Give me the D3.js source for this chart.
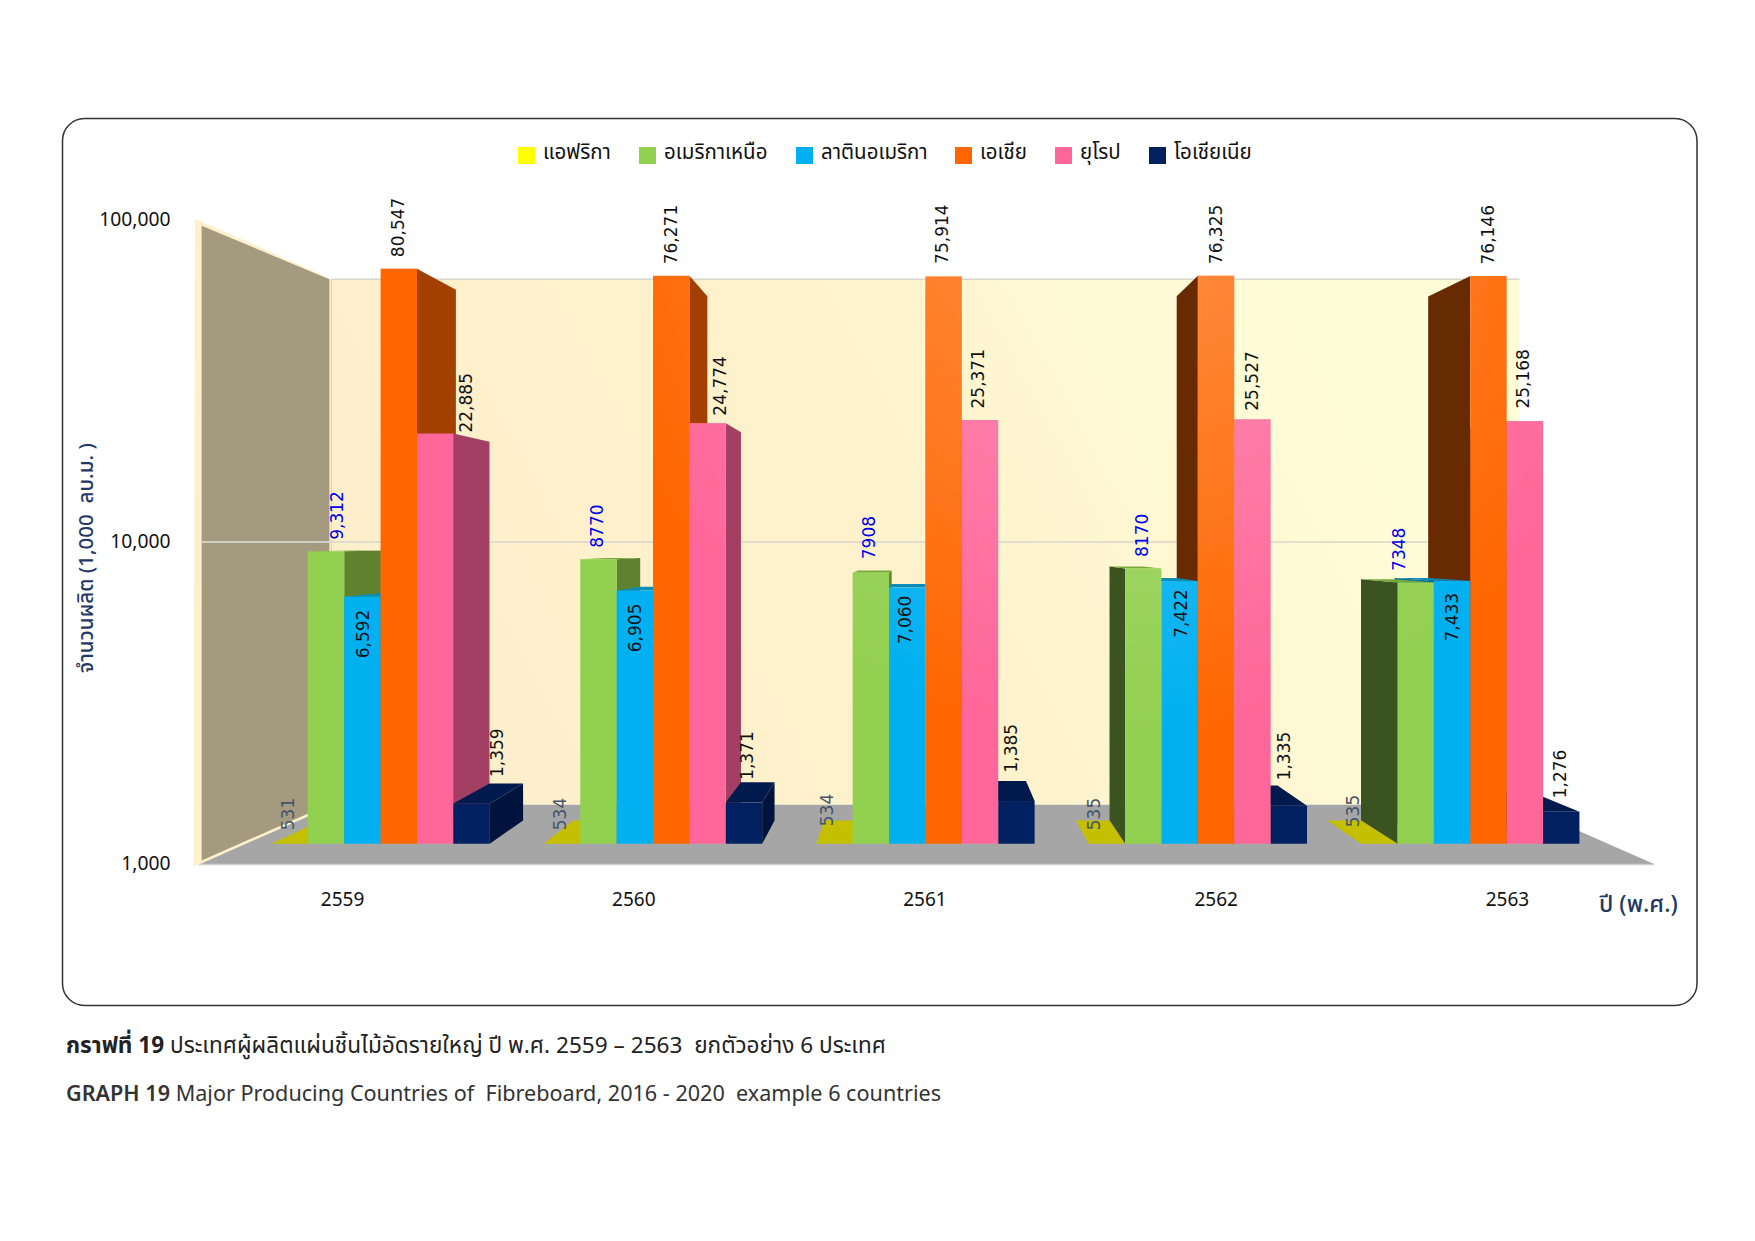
<!DOCTYPE html>
<html lang="th">
<head>
<meta charset="utf-8">
<script src="https://cdn.jsdelivr.net/npm/d3@7"></script>
<style>
html,body{margin:0;padding:0;background:#fff}
text{font-family:"Noto Sans","Noto Sans Thai","Open Sans",sans-serif}
.val{font-family:"DejaVu Sans",sans-serif;font-size:17px}
</style>
</head>
<body>
<svg id="chart" width="1755" height="1241" xmlns="http://www.w3.org/2000/svg"></svg>
<script>
// ---- data ----
const years = ["2559","2560","2561","2562","2563"];
const seriesNames = ["แอฟริกา","อเมริกาเหนือ","ลาตินอเมริกา","เอเชีย","ยุโรป","โอเชียเนีย"];
const africa   = [531,534,534,535,535];
const northAm  = [9312,8770,7908,8170,7348];
const latinAm  = [6592,6905,7060,7422,7433];
const asia     = [80547,76271,75914,76325,76146];
const europe   = [22885,24774,25371,25527,25168];
const oceania  = [1359,1371,1385,1335,1276];
const northAmLabels = ["9,312","8770","7908","8170","7348"];
const yTicks = [1000,10000,100000];

const labelDx = [
  [-2,-2,-8,-13,-26],[11,-2,-2,-1,-17],[0,0,-2,1,0],[-1,0,-2,0,-1],[31,12,-2,-1,-2],[25,3,-6,-5,-1]
];
const labelGap = [
  [15,15,19,15,18],[13,13,15,13,13],[-13,-13,-8,-8,-12],[13,13,14,13,13],[2.5,9,13,10,14],[28,24,30,27,15]
];

// ---- styles ----
const front = ["#c4c000","#92d050","#00b0f0","#ff6600","#ff6699","#002060"];
const legendFill = ["#ffff00","#92d050","#00b0f0","#ff6600","#ff6699","#002060"];
const topFill = ["#c4c000","#78a83c","#0a8db8","#ff8a3c","#ff8ab0","#001a4e"];
const faceToRight = ["#c4c000","#5e8230","#0a8db8","#a34000","#a33f63","#00133c"];
const faceToLeft  = ["#c4c000","#3b5320","#0a6f94","#682a00","#80304e","#00133c"];
const labelFill = ["#44546a","#0000ee","#111111","#111111","#111111","#111111"];
const navyText = "#1f3864";

const seriesVals = [africa,northAm,latinAm,asia,europe,oceania];

const svg = d3.select("#chart");
const defs = svg.append("defs");

// ---- scales: every plane is the front floor plane seen through a vanishing point ----
const VP = [923,542];
const x0 = d3.scaleBand().domain(years).range([198,1654]);
const x1 = d3.scaleBand().domain(d3.range(6)).range([28.5,261.9]);
const y  = d3.scaleLog().domain([1000,100000]).range([864,220]);
const tBarX = 0.9355, tBarFront = 0.937, shrink = 1-0.0769, tWall = 0.816;
const proj = (px,py,tx,ty=tx) => [VP[0]+(px-VP[0])*tx, VP[1]+(py-VP[1])*ty];
const pts = a => a.map(p=>p.map(v=>v.toFixed(2)).join(",")).join(" ");
const fmt = d3.format(",");
const barFront = (px,py) => proj(px,py,tBarX,tBarFront);
const barBack  = (px,py) => proj(px,py,tBarX*shrink,tBarFront*shrink);

// gradients
const gw = defs.append("linearGradient").attr("id","wall").attr("gradientUnits","userSpaceOnUse")
  .attr("x1",330).attr("y1",800).attr("x2",1300).attr("y2",280);
gw.append("stop").attr("offset",0).attr("stop-color","#fdeecb");
gw.append("stop").attr("offset",.55).attr("stop-color","#fef2cc");
gw.append("stop").attr("offset",1).attr("stop-color","#fffdd8");
const gl = defs.append("radialGradient").attr("id","shine").attr("gradientUnits","userSpaceOnUse")
  .attr("cx",1120).attr("cy",180).attr("r",560);
gl.append("stop").attr("offset",0).attr("stop-color","#fff").attr("stop-opacity",.28);
gl.append("stop").attr("offset",1).attr("stop-color","#fff").attr("stop-opacity",0);

// panel
svg.append("rect").attr("x",62.5).attr("y",118.5).attr("width",1634.5).attr("height",887)
  .attr("rx",22).attr("fill","#fff").attr("stroke","#333").attr("stroke-width",1.5);

// walls
const xL=x0.range()[0], xR=x0.range()[1];
const yB=y(1000), yT=y(100000);
const wallBL=proj(xL,yB,tWall), wallTL=proj(xL,yT,tWall), wallBR=proj(xR,yB,tWall), wallTR=proj(xR,yT,tWall);
svg.append("polygon").attr("fill","#fff0cc")
  .attr("points",pts([proj(xL,yT,1.004),wallTL,wallBL,proj(xL,yB,1.006)]));
svg.append("polygon").attr("fill","#a49a80")
  .attr("points",pts([proj(xL,y(97000),0.995),[wallTL[0]-2,wallTL[1]],[wallBL[0]-2,wallBL[1]],proj(xL,yB,0.995)]));
svg.append("rect").attr("x",wallTL[0]).attr("y",wallTL[1]).attr("width",wallTR[0]-wallTL[0]).attr("height",wallBL[1]-wallTL[1]).attr("fill","url(#wall)");

// gridlines
yTicks.slice(1).forEach(v=>{
  const a=proj(xL,y(v),tWall), b=proj(xR,y(v),tWall);
  svg.append("line").attr("x1",a[0]).attr("x2",b[0]).attr("y1",a[1]).attr("y2",b[1]).attr("stroke","#d9d6cc").attr("stroke-width",1.4);
});
const gl10 = proj(xL,y(10000),0.995);
svg.append("line").attr("x1",gl10[0]).attr("x2",wallTL[0]).attr("y1",gl10[1]).attr("y2",gl10[1]).attr("stroke","#e0e0dc").attr("stroke-width",1.4);
svg.append("line").attr("x1",wallTL[0]).attr("x2",wallTL[0]).attr("y1",wallTL[1]).attr("y2",wallBL[1]).attr("stroke","#d9d2bc").attr("stroke-width",1);

// floor
svg.append("polygon").attr("fill","#a6a6a6").attr("stroke","none")
  .attr("points",pts([[xL,yB],wallBL,wallBR,[xR,yB]]));
svg.append("line").attr("x1",xL).attr("x2",xR).attr("y1",yB+.5).attr("y2",yB+.5).attr("stroke","#cfcfcf").attr("stroke-width",1.5);
svg.append("line").attr("x1",xL-1).attr("y1",yB).attr("x2",wallBL[0]).attr("y2",wallBL[1]).attr("stroke","#fff0cc").attr("stroke-width",2.5);

// bars (painter's order: outermost from the vanishing point first)
const bars=[];
years.forEach((yr,i)=>seriesVals.forEach((vals,s)=>{
  const xa=x0(yr)+x1(s), xb=xa+x1.bandwidth();
  bars.push({yr,i,s,v:vals[i],xa,xb,cx:barFront((xa+xb)/2,yB)[0]});
}));
bars.sort((a,b)=>Math.abs(b.cx-VP[0])-Math.abs(a.cx-VP[0]));
const gBars=svg.append("g");
bars.forEach(d=>{
  const yTop=y(Math.max(d.v,1000));
  const fl=barFront(d.xa,yTop), fr=barFront(d.xb,yTop);
  const bl=barBack(d.xa,yTop), br=barBack(d.xb,yTop);
  const flB=barFront(d.xa,yB), frB=barFront(d.xb,yB);
  const blB=barBack(d.xa,yB), brB=barBack(d.xb,yB);
  // side face toward the vanishing point
  if(d.v>1000){
    if(fr[0]<VP[0]) gBars.append("polygon").attr("fill",faceToRight[d.s]).attr("points",pts([fr,br,brB,frB]));
    if(fl[0]>VP[0]) gBars.append("polygon").attr("fill",faceToLeft[d.s]).attr("points",pts([fl,bl,blB,flB]));
  }
  // top face is only seen when it sits below eye level
  if(fl[1]>VP[1]) gBars.append("polygon").attr("fill",topFill[d.s]).attr("points",pts([fl,fr,br,bl]));
  // front face
  if(d.v>1000){
    const r=[fl[0],fl[1],fr[0]-fl[0],flB[1]-fl[1]];
    for(const f of [front[d.s],"url(#shine)"])
      gBars.append("rect").attr("x",r[0]).attr("y",r[1]).attr("width",r[2]).attr("height",r[3]).attr("fill",f);
  }
});

// value labels
years.forEach((yr,i)=>seriesVals.forEach((vals,s)=>{
  const v=vals[i];
  const xa=x0(yr)+x1(s), xb=xa+x1.bandwidth();
  const [cx,top]=barFront((xa+xb)/2,y(Math.max(v,1000)));
  const inside=labelGap[s][i]<0;
  const lx=cx+labelDx[s][i], ly=top-labelGap[s][i]+(inside?0:1.5);
  const txt = s===1 ? northAmLabels[i] : fmt(v);
  svg.append("text").attr("class","val")
    .attr("transform",`translate(${lx+6.2},${ly}) rotate(-90)`)
    .attr("text-anchor",inside?"end":"start")
    .attr("fill",labelFill[s]).text(txt);
}));

// y axis labels (front plane)
yTicks.forEach(v=>{
  svg.append("text").attr("x",170.5).attr("y",y(v)+6)
    .attr("text-anchor","end").attr("font-size",19.3).attr("fill","#111").text(fmt(v));
});
// x axis labels
years.forEach(yr=>{
  svg.append("text").attr("x",x0(yr)+x0.bandwidth()/2-1).attr("y",905.5).attr("text-anchor","middle")
    .attr("font-size",19).attr("fill","#111").text(yr);
});

// axis titles
svg.append("text").attr("transform","translate(93,558) rotate(-90)").attr("text-anchor","middle")
  .attr("font-size",20.6).attr("font-weight",500).attr("fill",navyText).attr("xml:space","preserve").text("จำนวนผลิต (1,000  ลบ.ม. )");
svg.append("text").attr("x",1599).attr("y",912).attr("font-size",23.3).attr("font-weight",500).attr("fill",navyText).text("ปี (พ.ศ.)");

// legend
const legendSwatchX=[518,639,796,955,1055,1149];
seriesNames.forEach((n,i)=>{
  svg.append("rect").attr("x",legendSwatchX[i]).attr("y",147).attr("width",17).attr("height",17).attr("fill",legendFill[i]);
  svg.append("text").attr("x",legendSwatchX[i]+25).attr("y",159).attr("font-size",20.5).attr("fill","#111").text(n);
});

// captions
const c1=svg.append("text").attr("x",66).attr("y",1053).attr("font-size",22.6).attr("fill","#222").attr("xml:space","preserve");
c1.append("tspan").attr("font-weight",700).text("กราฟที่ 19 ");
c1.append("tspan").text("ประเทศผู้ผลิตแผ่นชิ้นไม้อัดรายใหญ่ ปี พ.ศ. 2559 – 2563  ยกตัวอย่าง 6 ประเทศ");
const c2=svg.append("text").attr("x",66).attr("y",1101).attr("font-size",21.6).attr("fill","#333").attr("xml:space","preserve");
c2.append("tspan").attr("font-weight",600).text("GRAPH 19 ");
c2.append("tspan").text("Major Producing Countries of  Fibreboard, 2016 - 2020  example 6 countries");
</script>
</body>
</html>
